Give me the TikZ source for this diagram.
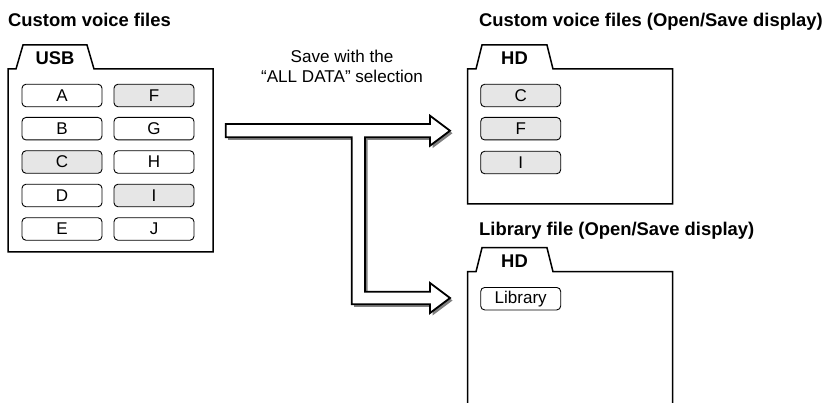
\documentclass[tikz,border=0pt]{standalone}
\usepackage{fontspec}
\setmainfont{Liberation Sans}
\definecolor{boxgray}{HTML}{E6E6E6}
\definecolor{shadowgray}{HTML}{808080}
\begin{document}
\begin{tikzpicture}[x=1pt,y=-1pt,
  folder/.style={draw=black,line width=1.5pt,line join=miter},
  filebox/.style={draw=black,line width=0.9pt,rounded corners=4pt,minimum width=80pt,minimum height=22.5pt,inner sep=0pt,font=\fontsize{17}{19}\selectfont},
  graybox/.style={filebox,fill=boxgray},
  title/.style={anchor=base west,inner sep=0pt,font=\fontsize{18.4}{22}\selectfont\bfseries},
  tablabel/.style={inner sep=0pt,font=\fontsize{18.4}{22}\selectfont\bfseries},
  note/.style={align=center,inner sep=0pt,font=\fontsize{17.1}{20.6}\selectfont}]
\useasboundingbox (0,0) rectangle (824,403);

% titles
\node[title] (t1) at (8,27) {Custom voice files};
\node[title] (t2) at (479,27) {Custom voice files (Open/Save display)};
\node[title] (t3) at (479,236) {Library file (Open/Save display)};

% USB folder
\draw[folder] (8,252) -- (8,69) -- (16,69) -- (23,45) -- (87,45) -- (94,69) -- (213,69) -- (213,252) -- cycle;
\node[tablabel] (usb) at (55,58) {USB};

% HD folders
\draw[folder] (467.7,204) -- (467.7,69) -- (476,69) -- (482,45) -- (547,45) -- (553,69) -- (672.7,69) -- (672.7,204) -- cycle;
\node[tablabel] (hd1) at (514.5,58) {HD};
\draw[folder] (467.7,408) -- (467.7,271.7) -- (476,271.7) -- (482,247.7) -- (547,247.7) -- (553,271.7) -- (672.7,271.7) -- (672.7,408);
\node[tablabel] (hd2) at (514.5,260.7) {HD};

% USB boxes
\node[filebox] (a) at (62,95.5) {A};
\node[filebox] (b) at (62,128.7) {B};
\node[graybox] (c) at (62,162) {C};
\node[filebox] (d) at (62,195.5) {D};
\node[filebox] (e) at (62,229) {E};
\node[graybox] (f) at (154,95.5) {F};
\node[filebox] (g) at (154,128.7) {G};
\node[filebox] (h) at (154,162) {H};
\node[graybox] (i) at (154,195.5) {I};
\node[filebox] (j) at (154,229) {J};

% HD boxes
\node[graybox] (hc) at (520.7,95.5) {C};
\node[graybox] (hf) at (520.7,128.7) {F};
\node[graybox] (hi) at (520.7,162.5) {I};
\node[filebox] (lib) at (520.7,298.7) {Library};

% note
\node[note,anchor=base] (note) at (342,82.7) {Save with the\\``ALL DATA'' selection};

% arrow
\def\arrowpath{(225.7,124) -- (430,124) -- (430,115.7) -- (450,130.7) -- (430,145.7) -- (430,137.3) -- (365,137.3) -- (365,291.7) -- (430,291.7) -- (430,283) -- (450,298) -- (430,313) -- (430,304.3) -- (351.7,304.3) -- (351.7,137.3) -- (225.7,137.3) -- cycle}
\fill[shadowgray,shift={(2.5,2.5)}] \arrowpath;
\draw[fill=white,line width=1.8pt,line join=miter] \arrowpath;
\end{tikzpicture}
\end{document}
